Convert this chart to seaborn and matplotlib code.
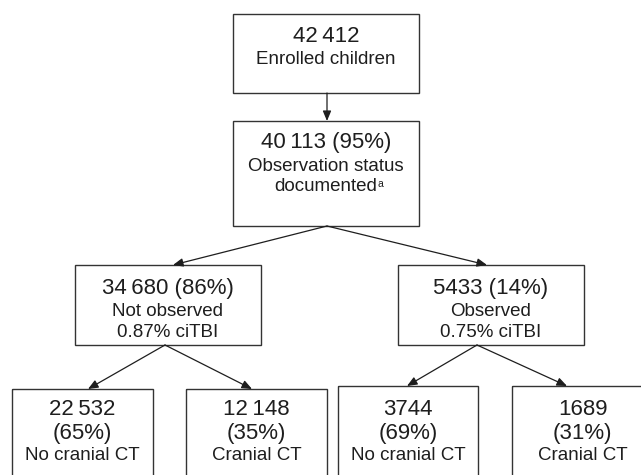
import matplotlib.pyplot as plt
import seaborn as sns
from matplotlib.patches import Rectangle, FancyArrowPatch

sns.set_theme(style="white")
plt.rcParams['font.family'] = ['Liberation Sans', 'DejaVu Sans']

# node contents
counts = ["42\u2009412", "40\u2009113", "34\u2009680", "5433",
          "22\u2009532", "12\u2009148", "3744", "1689"]
percents = [None, "95%", "86%", "14%", "65%", "35%", "69%", "31%"]
labels = ["Enrolled children", "Observation status", "Not observed", "Observed",
          "No cranial CT", "Cranial CT", "No cranial CT", "Cranial CT"]
citbi = [None, None, "0.87% ciTBI", "0.75% ciTBI", None, None, None, None]
edges = [(0, 1), (1, 2), (1, 3), (2, 4), (2, 5), (3, 6), (3, 7)]

# layout in pixel units (x0, y0, x1, y1)
boxes = [(233, 14, 419, 93), (233, 121, 419, 226),
         (75, 265, 261, 345), (398, 265, 584, 345),
         (12, 389, 153, 500), (186, 389, 327, 500),
         (338, 386, 478, 500), (512, 386, 653, 500)]
# arrow start / end points
starts = [(327, 93), (327, 226), (327, 226), (165, 345), (165, 345), (477, 345), (477, 345)]
ends = [(327, 121), (173, 265), (487, 265), (88, 389), (252, 389), (407, 386), (567, 386)]

big = 16
small = 13.5
ink = '#1e1e1e'
edge = '#333333'

fig = plt.figure(figsize=(6.41, 4.75), dpi=100)
ax = fig.add_axes([0, 0, 1, 1])
ax.set_xlim(0, 641)
ax.set_ylim(475, 0)
ax.axis('off')

for (x0, y0, x1, y1) in boxes:
    ax.add_patch(Rectangle((x0, y0), x1 - x0, y1 - y0, fill=False,
                           edgecolor=edge, linewidth=1.0))

for (a, b), p, q in zip(edges, starts, ends):
    ax.add_patch(FancyArrowPatch(p, q, arrowstyle='-|>,head_length=0.6,head_width=0.25',
                                 mutation_scale=10, shrinkA=0, shrinkB=0,
                                 color=ink, linewidth=0.9))

for i, (x0, y0, x1, y1) in enumerate(boxes):
    cx = (x0 + x1) / 2
    if i == 0:
        ax.text(cx, 42, counts[i], ha='center', va='baseline', fontsize=big, color=ink)
        ax.text(cx, 64, labels[i], ha='center', va='baseline', fontsize=small, color=ink)
    elif i == 1:
        ax.text(cx, 148, f"{counts[i]} ({percents[i]})", ha='center', va='baseline',
                fontsize=big, color=ink)
        ax.text(cx, 171, labels[i], ha='center', va='baseline', fontsize=small, color=ink)
        doc = ax.text(cx, 191, "documented", ha='center', va='baseline',
                      fontsize=small, color=ink)
        ax.annotate("a", xy=(1.0, 0.95), xycoords=doc, ha='left', va='top',
                    fontsize=7.5, color=ink)
    elif i < 4:
        ax.text(cx, 294, f"{counts[i]} ({percents[i]})", ha='center', va='baseline',
                fontsize=big, color=ink)
        ax.text(cx, 316, labels[i], ha='center', va='baseline', fontsize=small, color=ink)
        ax.text(cx, 337, citbi[i], ha='center', va='baseline', fontsize=small, color=ink)
    else:
        ax.text(cx, 415, counts[i], ha='center', va='baseline', fontsize=big, color=ink)
        ax.text(cx, 439, f"({percents[i]})", ha='center', va='baseline', fontsize=big, color=ink)
        ax.text(cx, 460, labels[i], ha='center', va='baseline', fontsize=small, color=ink)

fig.savefig('out.png', dpi=100)
